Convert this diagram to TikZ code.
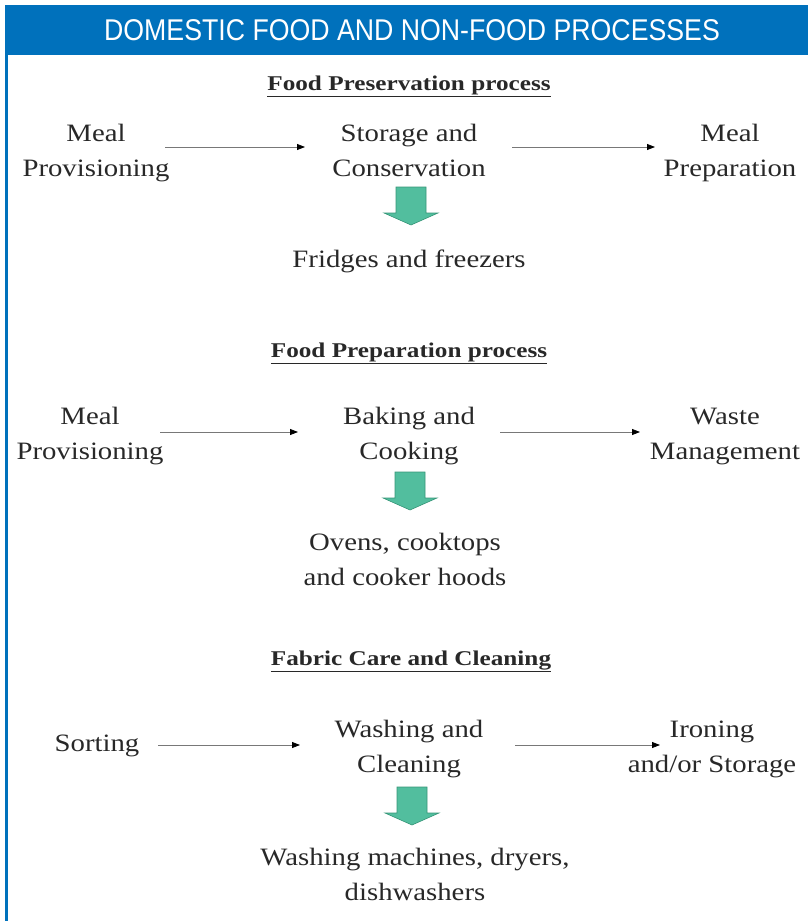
\documentclass[tikz,border=0pt]{standalone}
\usepackage{fontspec}
\usetikzlibrary{arrows.meta}
\newfontfamily\bodyfont[FakeStretch=1.15]{Liberation Serif}
\newfontfamily\ttlfont[FakeStretch=1.2]{Liberation Serif}
\newfontfamily\headfont[FakeStretch=0.89]{Liberation Sans}
\definecolor{hblue}{RGB}{0,113,188}
\definecolor{txt}{RGB}{40,40,40}
\definecolor{agreen}{RGB}{82,190,158}
\definecolor{agreenD}{RGB}{55,150,120}
\definecolor{aline}{RGB}{120,120,120}
\begin{document}
\begin{tikzpicture}[x=1pt,y=-1pt,
  lbl/.style={font=\bodyfont\fontsize{25}{35}\selectfont, text=txt, align=center, anchor=base, inner sep=0pt},
  ttl/.style={font=\ttlfont\bfseries\fontsize{21}{25}\selectfont, text=txt, anchor=base, inner sep=0pt},
  flow/.style={draw=aline, line width=0.8pt, -{Triangle[length=8pt,width=6pt,fill=black,color=black]}},
  garrow/.pic={
    \filldraw[fill=agreen, draw=agreenD, line width=0.6pt]
      (-15,0) -- (15,0) -- (15,26) -- (27,26) -- (0,38) -- (-27,26) -- (-15,26) -- cycle;
  }]
\useasboundingbox (0,0) rectangle (808,921);
% frame
\fill[hblue] (5,5) rectangle (808,55);
\fill[hblue] (5,55) rectangle (8,921);
\node[font=\headfont\fontsize{30}{34}\selectfont, text=white, anchor=base, inner sep=0pt] (title) at (412,40) {DOMESTIC FOOD AND NON-FOOD PROCESSES};

% Section 1
\node[ttl] (h1) at (409,90) {\underline{Food Preservation process}};
\node[lbl] (mp1) at (96,176) {Meal\\Provisioning};
\node[lbl] (sc1) at (409,176) {Storage and\\Conservation};
\node[lbl] (mprep) at (730,176) {Meal\\Preparation};
\draw[flow, shorten <=69pt, shorten >=104pt] ([yshift=29pt]mp1.base) -- ([yshift=29pt]sc1.base);
\draw[flow, shorten <=103pt, shorten >=75pt] ([yshift=29pt]sc1.base) -- ([yshift=29pt]mprep.base);
\pic at (411,187) {garrow};
\node[lbl] (ff) at (409,267) {Fridges and freezers};

% Section 2
\node[ttl] (h2) at (409,357) {\underline{Food Preparation process}};
\node[lbl] (mp2) at (90,459) {Meal\\Provisioning};
\node[lbl] (bc) at (409,459) {Baking and\\Cooking};
\node[lbl] (wm) at (725,459) {Waste\\Management};
\draw[flow, shorten <=70pt, shorten >=111pt] ([yshift=27pt]mp2.base) -- ([yshift=27pt]bc.base);
\draw[flow, shorten <=91pt, shorten >=85pt] ([yshift=27pt]bc.base) -- ([yshift=27pt]wm.base);
\pic at (410,472) {garrow};
\node[lbl] (ov) at (405,585) {Ovens, cooktops\\and cooker hoods};

% Section 3
\node[ttl] (h3) at (411,665) {\underline{Fabric Care and Cleaning}};
\node[lbl] (so) at (97,751) {Sorting};
\node[lbl] (wc) at (409,772) {Washing and\\Cleaning};
\node[lbl] (ir) at (712,772) {Ironing\\and/or Storage};
\draw[flow, shorten <=61pt, shorten >=109pt] ([yshift=6pt]so.base) -- ([yshift=27pt]wc.base);
\draw[flow, shorten <=106pt, shorten >=52pt] ([yshift=27pt]wc.base) -- ([yshift=27pt]ir.base);
\pic at (412,787) {garrow};
\node[lbl] (wmd) at (415,900) {Washing machines, dryers,\\dishwashers};
\end{tikzpicture}
\end{document}
